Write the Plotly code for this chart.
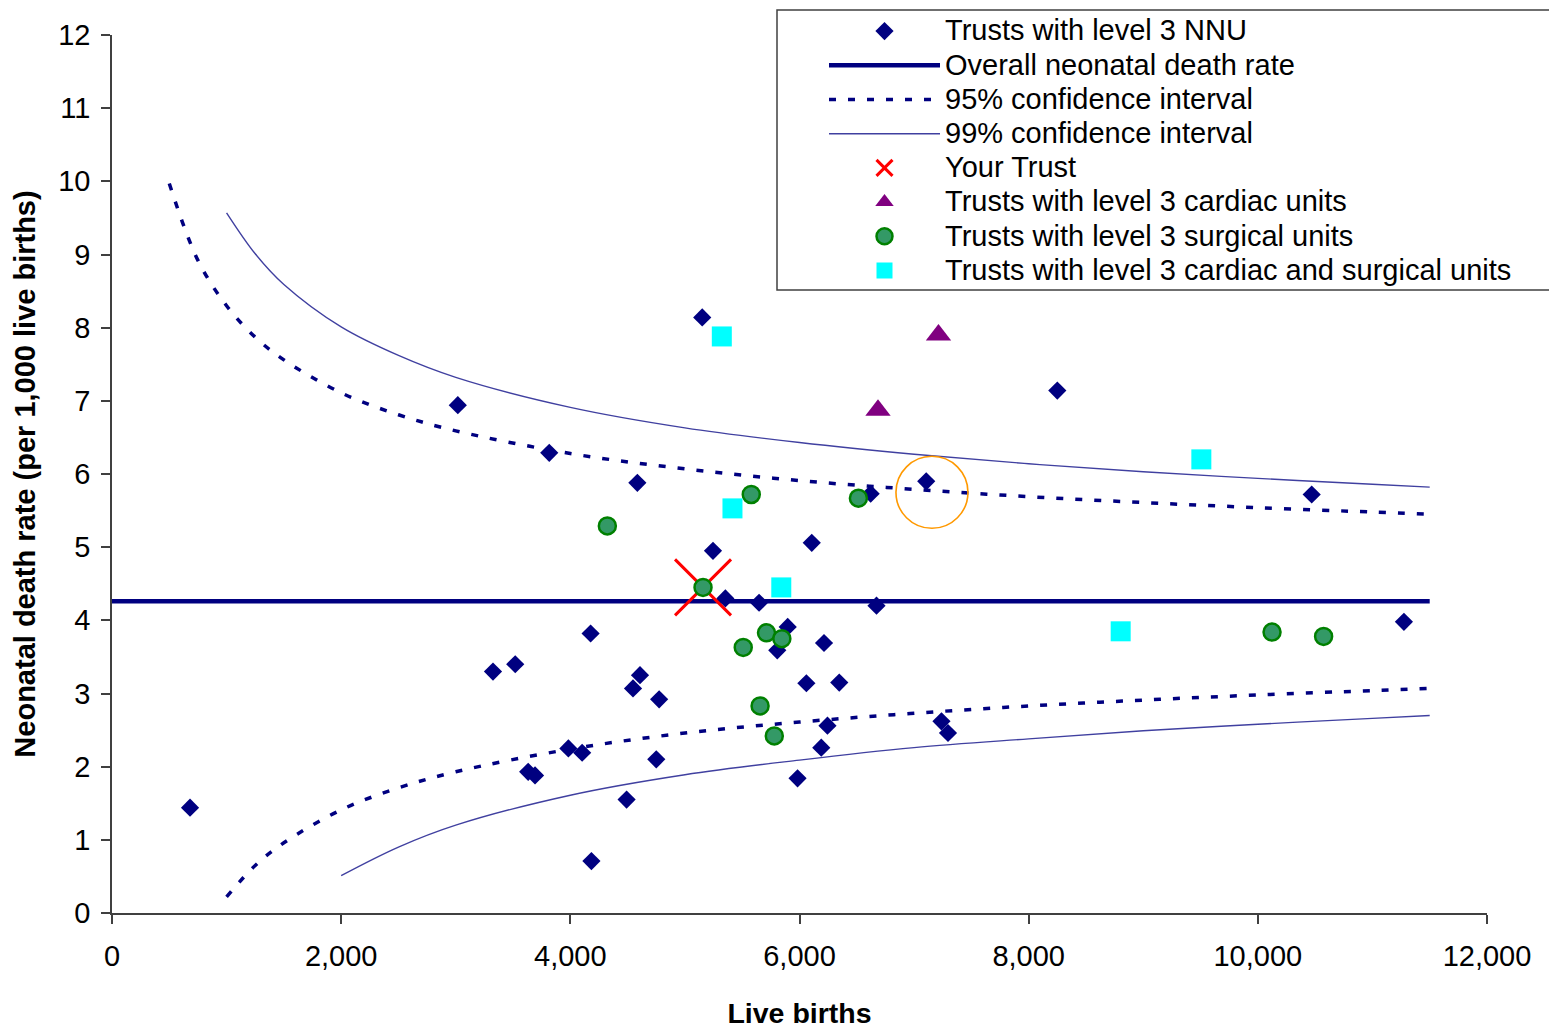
import plotly.graph_objects as go

# ---------------- data ----------------
NNU_X = [681, 3018, 3816, 5151, 4585, 5245, 6107, 6621, 7106, 8250, 10470, 11275,
         6672, 5353, 5647, 4177, 5897, 5806, 6214, 3325, 3519, 4608, 4547, 4775,
         6060, 6347, 6244, 6190, 7239, 7296, 3983, 4103, 3632, 3692, 4750, 4491,
         5983, 4184]
NNU_Y = [1.44, 6.94, 6.29, 8.14, 5.88, 4.95, 5.06, 5.73, 5.90, 7.14, 5.72, 3.98,
         4.20, 4.30, 4.24, 3.82, 3.91, 3.59, 3.69, 3.30, 3.40, 3.25, 3.07, 2.92,
         3.14, 3.15, 2.56, 2.26, 2.62, 2.46, 2.25, 2.19, 1.93, 1.88, 2.10, 1.55,
         1.84, 0.71]

CARDIAC_X = [7213, 6685]
CARDIAC_Y = [7.90, 6.87]

SURGICAL_X = [4323, 5579, 6514, 5158, 5712, 5846, 5509, 5656, 5780, 10124, 10574]
SURGICAL_Y = [5.29, 5.72, 5.67, 4.45, 3.83, 3.75, 3.63, 2.83, 2.42, 3.84, 3.78]

BOTH_X = [5322, 5415, 5841, 9507, 8803]
BOTH_Y = [7.88, 5.53, 4.45, 6.20, 3.85]

YOUR_X = [5158]
YOUR_Y = [4.45]

OVERALL_X = [0, 11500]
OVERALL_Y = [4.26, 4.26]

CI95_UPPER_X = [500, 750, 1000, 1250, 1500, 2000, 2500, 3000, 4000, 5000, 6000,
                7000, 8000, 9000, 10000, 11000, 11500]
CI95_UPPER_Y = [9.97, 8.92, 8.30, 7.87, 7.56, 7.11, 6.81, 6.59, 6.28, 6.07, 5.91,
                5.79, 5.69, 5.61, 5.54, 5.48, 5.45]
CI95_LOWER_X = [1000, 1250, 1500, 2000, 2500, 3000, 4000, 5000, 6000, 7000, 8000,
                9000, 10000, 11000, 11500]
CI95_LOWER_Y = [0.22, 0.65, 0.96, 1.41, 1.71, 1.93, 2.24, 2.46, 2.61, 2.73, 2.83,
                2.91, 2.98, 3.04, 3.07]
CI99_UPPER_X = [1000, 1250, 1500, 2000, 2500, 3000, 4000, 5000, 6000, 7000, 8000,
                9000, 10000, 11000, 11500]
CI99_UPPER_Y = [9.57, 9.01, 8.59, 8.01, 7.62, 7.32, 6.91, 6.63, 6.43, 6.27, 6.14,
                6.03, 5.94, 5.86, 5.82]
CI99_LOWER_X = [2000, 2500, 3000, 4000, 5000, 6000, 7000, 8000, 9000, 10000, 11000,
                11500]
CI99_LOWER_Y = [0.51, 0.90, 1.20, 1.61, 1.89, 2.09, 2.26, 2.38, 2.49, 2.58, 2.66,
                2.70]

X_TICKS = [0, 2000, 4000, 6000, 8000, 10000, 12000]
X_TICK_LABELS = ["0", "2,000", "4,000", "6,000", "8,000", "10,000", "12,000"]
Y_TICKS = list(range(0, 13))

HIGHLIGHT_X = 7156   # centre of the orange highlight ring
HIGHLIGHT_Y = 5.75

# ---------------- layout constants ----------------
PAGE_OFF = 8                      # browser default body margin
W, H = 1557 - PAGE_OFF, 1029 - PAGE_OFF
ML, MR, MT, MB = 112 - PAGE_OFF, 70, 35 - PAGE_OFF, 116
PW, PH = W - ML - MR, H - MT - MB
X_RANGE = [0, 12000]
Y_RANGE = [0, 12]
FONT = "Liberation Sans, Arial, sans-serif"
NAVY = "#000080"
LEG_PX = 29


def px_x(sx):
    """screen-pixel x (reference picture) -> paper fraction"""
    return (sx - PAGE_OFF - ML) / PW


def px_y(sy):
    """screen-pixel y (reference picture) -> paper fraction"""
    return (MT + PH - (sy - PAGE_OFF)) / PH


def leg(name):
    return '<span style="font-size:%dpx">%s</span>' % (LEG_PX, name)


fig = go.Figure()

fig.add_trace(go.Scatter(
    x=NNU_X, y=NNU_Y, mode="markers", name=leg("Trusts with level 3 NNU"),
    marker=dict(symbol="diamond", size=14, color=NAVY, line=dict(width=0))))

fig.add_trace(go.Scatter(
    x=OVERALL_X, y=OVERALL_Y, mode="lines", name=leg("Overall neonatal death rate"),
    line=dict(color=NAVY, width=4.5)))

fig.add_trace(go.Scatter(
    x=CI95_UPPER_X, y=CI95_UPPER_Y, mode="lines", name=leg("95% confidence interval"),
    legendgroup="ci95", line=dict(color=NAVY, width=3.5, dash="7px,12px",
                                  shape="spline")))
fig.add_trace(go.Scatter(
    x=CI95_LOWER_X, y=CI95_LOWER_Y, mode="lines", name="95% confidence interval",
    legendgroup="ci95", showlegend=False,
    line=dict(color=NAVY, width=3.5, dash="7px,12px", shape="spline")))

fig.add_trace(go.Scatter(
    x=CI99_UPPER_X, y=CI99_UPPER_Y, mode="lines", name=leg("99% confidence interval"),
    legendgroup="ci99", line=dict(color="#4040a0", width=1.4, shape="spline")))
fig.add_trace(go.Scatter(
    x=CI99_LOWER_X, y=CI99_LOWER_Y, mode="lines", name="99% confidence interval",
    legendgroup="ci99", showlegend=False,
    line=dict(color="#4040a0", width=1.4, shape="spline")))

fig.add_trace(go.Scatter(
    x=YOUR_X, y=YOUR_Y, mode="markers", name=leg("Your Trust"),
    marker=dict(symbol="x-thin-open", size=56, color="#FF0000",
                line=dict(color="#FF0000", width=3))))

fig.add_trace(go.Scatter(
    x=CARDIAC_X, y=CARDIAC_Y, mode="markers", name=leg("Trusts with level 3 cardiac units"),
    marker=dict(symbol="triangle-up", size=22, color="#800080", line=dict(width=0))))

fig.add_trace(go.Scatter(
    x=SURGICAL_X, y=SURGICAL_Y, mode="markers", name=leg("Trusts with level 3 surgical units"),
    marker=dict(symbol="circle", size=17, color="#339966",
                line=dict(color="#008000", width=2.5))))

fig.add_trace(go.Scatter(
    x=BOTH_X, y=BOTH_Y, mode="markers",
    name=leg("Trusts with level 3 cardiac and surgical units"),
    marker=dict(symbol="square", size=20, color="#00FFFF", line=dict(width=0))))

# highlight ring (fixed pixel radius converted to data units)
R_PX = 36
rx = R_PX * (X_RANGE[1] - X_RANGE[0]) / PW
ry = R_PX * (Y_RANGE[1] - Y_RANGE[0]) / PH
shapes = [
    dict(type="circle", xref="x", yref="y",
         x0=HIGHLIGHT_X - rx, x1=HIGHLIGHT_X + rx,
         y0=HIGHLIGHT_Y - ry, y1=HIGHLIGHT_Y + ry,
         line=dict(color="#FF9900", width=1.6), layer="above"),
    # legend frame
    dict(type="rect", xref="paper", yref="paper",
         x0=px_x(777), x1=px_x(1570), y0=px_y(290), y1=px_y(10),
         line=dict(color="#404040", width=1.5), fillcolor="white", layer="below"),
]

axis_common = dict(
    showgrid=False, zeroline=False, showline=True, linecolor="#404040", linewidth=1.5,
    ticks="outside", ticklen=9, tickwidth=1.5, tickcolor="#404040",
    tickfont=dict(family=FONT, size=29, color="black"), automargin=False,
    fixedrange=True,
)

fig.update_layout(
    width=W, height=H,
    margin=dict(l=ML, r=MR, t=MT, b=MB, autoexpand=False),
    paper_bgcolor="white", plot_bgcolor="white",
    font=dict(family=FONT, color="black"),
    shapes=shapes,
    showlegend=True,
    legend=dict(
        x=px_x(824), xanchor="left",
        y=px_y(9), yanchor="top",
        bgcolor="rgba(0,0,0,0)", borderwidth=0,
        font=dict(family=FONT, size=24, color="black"),
        itemwidth=111, itemsizing="trace", tracegroupgap=0,
        itemclick=False, itemdoubleclick=False,
    ),
    xaxis=dict(
        range=X_RANGE, tickmode="array", tickvals=X_TICKS, ticktext=X_TICK_LABELS,
        ticklabelstandoff=7,
        title=dict(text="<b>Live births</b>", standoff=38,
                   font=dict(family=FONT, size=28.5, color="black")),
        **axis_common),
    yaxis=dict(
        range=Y_RANGE, tickmode="array", tickvals=Y_TICKS,
        ticklabelstandoff=5,
        title=dict(text="<b>Neonatal death rate (per 1,000 live births)</b>", standoff=14,
                   font=dict(family=FONT, size=29, color="black")),
        **axis_common),
)

fig.write_html("out.html")
